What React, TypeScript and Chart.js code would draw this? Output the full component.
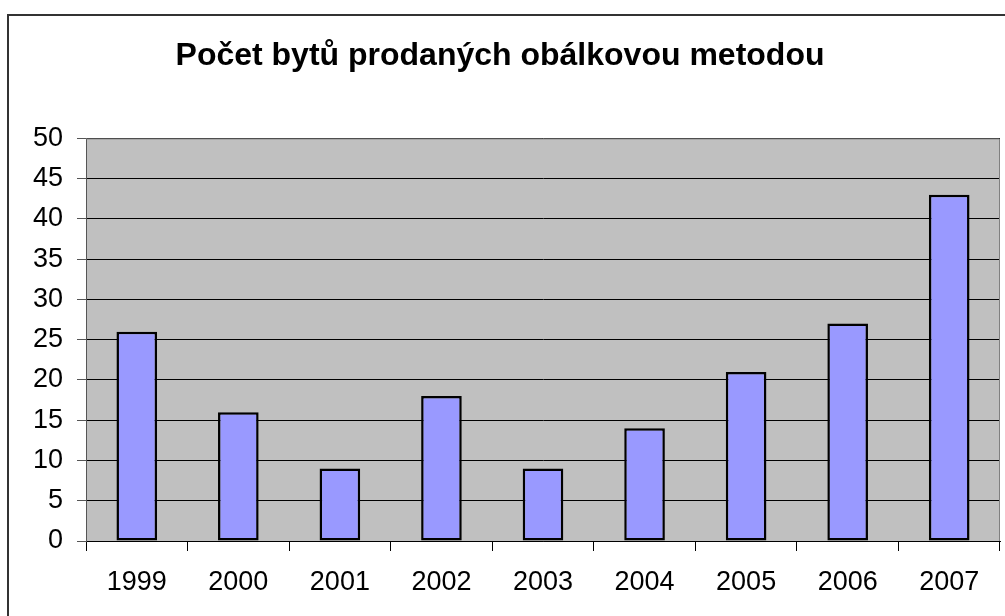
import React, { useEffect, useRef } from "react";
import { Chart, registerables } from "chart.js";

Chart.register(...registerables);

const categories = ["1999", "2000", "2001", "2002", "2003", "2004", "2005", "2006", "2007"];
const values = [26, 16, 9, 18, 9, 14, 21, 27, 43];
const titleText = "Počet bytů prodaných obálkovou metodou";

const FONT = "'Liberation Sans', Arial, sans-serif";

const plotBg = {
  id: "plotBg",
  beforeDraw(chart: any) {
    const { ctx, chartArea: a } = chart;
    ctx.save();
    ctx.fillStyle = "#C0C0C0";
    ctx.fillRect(a.left, a.top, a.right - a.left, a.bottom - a.top);
    ctx.restore();
  },
  beforeDatasetsDraw(chart: any) {
    const { ctx, chartArea: a } = chart;
    ctx.save();
    ctx.strokeStyle = "#808080";
    ctx.lineWidth = 1;
    ctx.beginPath();
    ctx.moveTo(a.left, a.top + 0.5);
    ctx.lineTo(a.right - 0.5, a.top + 0.5);
    ctx.lineTo(a.right - 0.5, a.bottom);
    ctx.stroke();
    ctx.restore();
  },
};

export default function App() {
  const ref = useRef<HTMLCanvasElement>(null);
  useEffect(() => {
    if (!ref.current) return;
    const chart = new Chart(ref.current, {
      type: "bar",
      data: {
        labels: categories,
        datasets: [
          {
            data: values,
            backgroundColor: "#9999FF",
            borderColor: "#000000",
            borderWidth: 2.5,
            borderSkipped: false,
            barPercentage: 0.4,
            categoryPercentage: 1,
          },
        ],
      },
      options: {
        animation: false,
        responsive: false,
        maintainAspectRatio: false,
        layout: { padding: { left: 0, right: 5, top: 0, bottom: 0 } },
        plugins: {
          legend: { display: false },
          tooltip: { enabled: false },
          title: {
            display: true,
            text: titleText,
            color: "#000",
            font: { family: FONT, size: 32, weight: "bold", lineHeight: 1.2 },
            padding: { top: 37, bottom: 63 },
          },
        },
        scales: {
          x: {
            offset: true,
            grid: {
              offset: true,
              drawOnChartArea: false,
              drawTicks: true,
              tickLength: 10,
              color: "#000",
            },
            border: { color: "#000", width: 1 },
            ticks: {
              color: "#000",
              padding: 15,
              font: { family: FONT, size: 27 },
            },
            afterFit(s: any) {
              s.height = 75;
            },
          },
          y: {
            min: 0,
            max: 50,
            ticks: {
              stepSize: 5,
              color: "#000",
              padding: 14,
              font: { family: FONT, size: 27 },
            },
            grid: { color: "#000", tickLength: 9, tickColor: "#555" },
            border: { color: "#555", width: 1 },
            afterFit(s: any) {
              s.width = 86;
            },
          },
        },
      },
      plugins: [plotBg],
    });
    return () => chart.destroy();
  }, []);

  return (
    <div style={{ position: "fixed", left: 0, top: 0, width: 1005, height: 616, overflow: "hidden", background: "#fff" }}>
      <div
        style={{
          position: "absolute",
          left: 7,
          top: 14,
          width: 1100,
          height: 700,
          border: "2px solid #333",
          boxSizing: "border-box",
        }}
      />
      <canvas ref={ref} width={1005} height={616} style={{ position: "absolute", left: 0, top: 0, width: 1005, height: 616 }} />
    </div>
  );
}
